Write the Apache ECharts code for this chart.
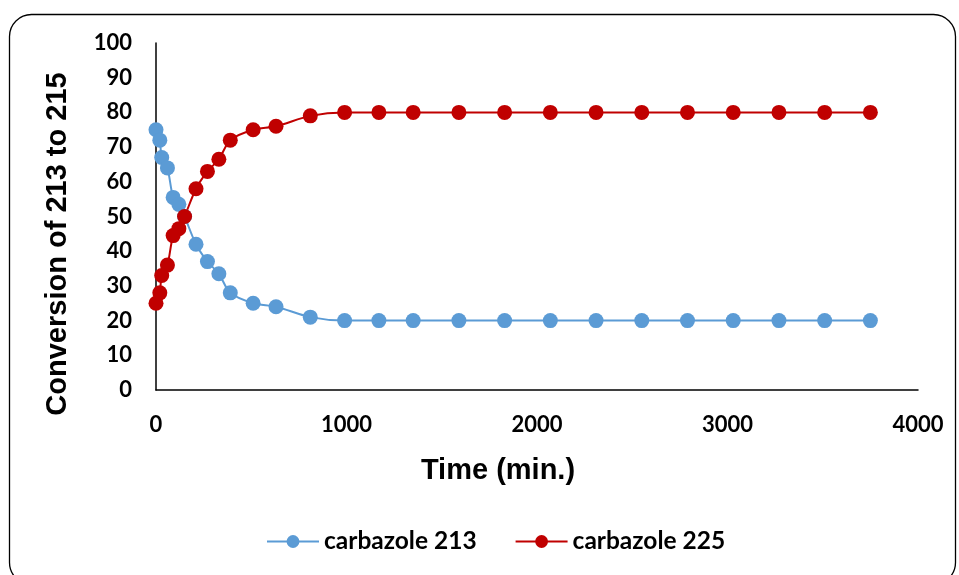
<!DOCTYPE html>
<html>
<head>
<meta charset="utf-8">
<script src="https://cdn.jsdelivr.net/npm/echarts@6/dist/echarts.min.js"></script>
<style>
html, body { margin: 0; padding: 0; background: #fff; }
#main { width: 959px; height: 575px; }
</style>
</head>
<body>
<div id="main"></div>
<script>
// time in minutes
const times = [0, 20, 30, 60, 90, 120, 150, 210, 270, 330, 390, 510, 630, 810, 990, 1170, 1350, 1590, 1830, 2070, 2310, 2550, 2790, 3030, 3270, 3510, 3750]
const carb213 = [75, 72, 67, 64, 55.5, 53.5, 50, 42, 37, 33.5, 28, 25, 24, 21, 20, 20, 20, 20, 20, 20, 20, 20, 20, 20, 20, 20, 20]
const carb225 = [25, 28, 33, 36, 44.5, 46.5, 50, 58, 63, 66.5, 72, 75, 76, 79, 80, 80, 80, 80, 80, 80, 80, 80, 80, 80, 80, 80, 80]

const pairs = (ys) => times.map((t, i) => [t, ys[i]])

const chart = echarts.init(document.getElementById('main'))
const labelFont = { fontFamily: 'Lato', fontWeight: 'bold', fontSize: 22, color: '#000' }
const titleFont = 'bold 29px "Liberation Sans", Arial, sans-serif'

chart.setOption({
  animation: false,
  graphic: [
    {
      type: 'rect',
      shape: { x: 9.5, y: 14.5, width: 946, height: 570, r: 22 },
      style: { fill: 'none', stroke: '#000', lineWidth: 1.3 },
      z: -1
    },
    {
      // y axis title
      type: 'text',
      x: 58, y: 244,
      rotation: Math.PI / 2,
      style: { text: 'Conversion of 213 to 215', font: titleFont, fill: '#000', align: 'center', verticalAlign: 'middle' }
    },
    {
      // x axis title
      type: 'text',
      x: 498, y: 471,
      style: { text: 'Time (min.)', font: titleFont, fill: '#000', align: 'center', verticalAlign: 'middle' }
    }
  ],
  grid: { left: 156, right: 41, top: 43, bottom: 185 },
  legend: {
    bottom: 16,
    left: 261,
    itemWidth: 52,
    itemHeight: 16,
    itemGap: 38,
    textStyle: { fontFamily: 'Lato', fontWeight: 'bold', fontSize: 24.5, color: '#000' },
    data: ['carbazole 213', 'carbazole 225']
  },
  xAxis: {
    type: 'value',
    min: 0, max: 4000, interval: 1000,
    axisLine: { lineStyle: { color: '#000', width: 1.5 } },
    axisTick: { show: false },
    splitLine: { show: false },
    axisLabel: Object.assign({ margin: 24, formatter: (v) => String(v) }, labelFont)
  },
  yAxis: {
    type: 'value',
    min: 0, max: 100, interval: 10,
    axisLine: { show: true, lineStyle: { color: '#000', width: 1.5 } },
    axisTick: { show: false },
    splitLine: { show: false },
    axisLabel: Object.assign({ margin: 24 }, labelFont)
  },
  series: [
    {
      name: 'carbazole 213',
      type: 'line',
      smooth: 0.3,
      data: pairs(carb213),
      symbol: 'circle',
      symbolSize: 15,
      lineStyle: { color: '#5B9BD5', width: 2 },
      itemStyle: { color: '#5B9BD5' }
    },
    {
      name: 'carbazole 225',
      type: 'line',
      smooth: 0.3,
      data: pairs(carb225),
      symbol: 'circle',
      symbolSize: 15,
      lineStyle: { color: '#C00000', width: 2 },
      itemStyle: { color: '#C00000' }
    }
  ]
})
</script>
</body>
</html>
